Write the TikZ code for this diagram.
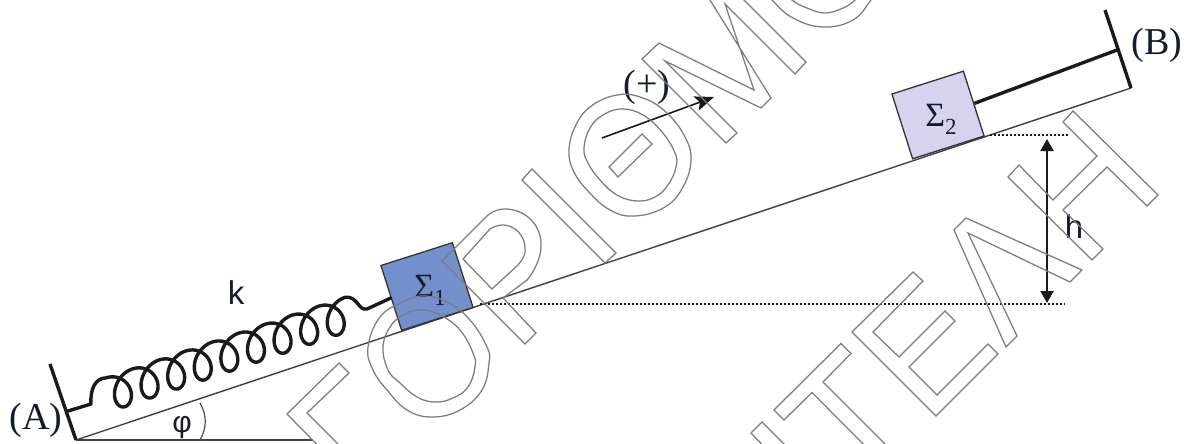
\documentclass[tikz,border=0pt]{standalone}
\usepackage{fontspec}
\setmainfont{Liberation Serif}
\newfontfamily\sansf{Liberation Sans}
\usetikzlibrary{arrows.meta}
\definecolor{inkc}{HTML}{1A1A1A}
\definecolor{navyc}{HTML}{141C30}
\definecolor{markc}{HTML}{7C7C7C}
\definecolor{boxa}{HTML}{7490CC}
\definecolor{boxb}{HTML}{D6D2F0}
\tikzset{
  wm/.style={draw=markc,line width=1.25pt,line join=miter},
  massbox/.style={draw=black!80,line width=1.3pt,rectangle,rotate=17.7,minimum width=75pt,minimum height=68pt,inner sep=0pt},
  plane/.style={draw=black!75,line width=1.4pt},
  wallline/.style={draw=inkc,line width=3.4pt},
  springline/.style={draw=inkc,line width=3.4pt,line join=round,line cap=round},
  levelline/.style={draw=inkc,line width=2pt,dash pattern=on 2.4pt off 1.6pt},
  dimarrow/.style={draw=inkc,line width=2pt,{Triangle[length=12pt,width=13pt]}-{Triangle[length=12pt,width=13pt]},shorten <=0pt,shorten >=0pt},
  dirarrow/.style={draw=inkc,line width=1.6pt,-{Stealth[length=19pt,width=15pt,inset=4pt]}},
  serifl/.style={text=navyc,inner sep=0pt,font=\fontsize{38}{38}\selectfont},
  sansl/.style={text=navyc,inner sep=0pt,font=\sansf\fontsize{33}{33}\selectfont},
  sigmal/.style={text=navyc,inner sep=0pt,font=\fontsize{34}{34}\selectfont},
}
\newcommand{\sigmalabel}[1]{Σ\raisebox{-8pt}{\fontsize{23}{23}\selectfont #1}}
\begin{document}
\begin{tikzpicture}[x=1pt,y=-1pt]
\useasboundingbox (0,0) rectangle (1186,444);
\clip (0,0) rectangle (1186,444);
\fill[white] (0,0) rectangle (1186,444);
% named anchor points
\coordinate (foot) at (76,440);
\coordinate (wallAtop) at (50,364);
\coordinate (wallBtop) at (1105,10);
\coordinate (wallBfoot) at (1131,88);
\coordinate (baseEnd) at (313,440);
\coordinate (springA) at (68,411);
\coordinate (rodB) at (1117,50);
\coordinate (lowL) at (480,304);
\coordinate (lowR) at (1065,304);
\coordinate (upL) at (990,134.5);
\coordinate (upR) at (1068,134.5);
\coordinate (hTop) at (1047,139);
\coordinate (hBot) at (1047,303);
\coordinate (dirS) at (602,138);
\coordinate (dirE) at (714,97);
% incline
\draw[plane] (foot) -- (wallBfoot);
\draw[plane] (foot) -- (baseEnd);
\draw[black!70,line width=1.2pt] (200,403) .. controls (207,415) and (207,428) .. (200,440);
% walls
\draw[wallline] (wallAtop) -- (foot);
\draw[wallline] (wallBtop) -- (wallBfoot);
% blocks
\node[massbox,fill=boxa] (m1) at (427,286.5) {};
\node[massbox,fill=boxb] (m2) at (938,115) {};
% rod
\draw[wallline] (m2.east) -- (rodB);
% spring
\draw[springline] (springA) -- (91,404) .. controls (90,388) and (96,378) .. (105.9,377.9)
  -- plot[domain=0:3240,samples=433,variable=\t]
  ({125+26.6*(\t/360-0.5)+14.2*sin(\t)-2.9*(1+cos(\t))},
   {406.7-8.96*(\t/360-0.5)-4.6*sin(\t)-16.66*(1+cos(\t))})
  .. controls (358,296) and (358,311) .. (367,309) -- (m1.west);
% levels and arrows
\draw[levelline] (lowL) -- (lowR);
\draw[levelline] (upL) -- (upR);
\draw[dimarrow] (hTop) -- (hBot);
\draw[dirarrow] (dirS) -- (dirE);
% labels
\node[serifl] (la) at (36,420) {(A)};
\node[serifl] (lb) at (1157,45) {(B)};
\node[serifl] (lp) at (647,87) {(+)};
\node[sansl] (lk) at (236,293) {k};
\node[sansl] (lh) at (1074,227) {h};
\node[sansl,font=\sansf\fontsize{30}{30}\selectfont] (lphi) at (182,428) {φ};
\node[sigmal] (s1) at (430,290) {\sigmalabel{1}};
\node[sigmal] (s2) at (941,119) {\sigmalabel{2}};
% watermark outlines
\draw[wm] (339,363) -- (349,373) -- (307,413) -- (368,474) -- (345,473) -- (287,414) -- cycle;
\draw[wm] plot[smooth cycle,tension=0.7] coordinates {(368,347)(380,317)(403,302)(423,296)(447,302)(470,320)(487,347)(489,363)(482,390)(460,410)(432,417)(407,410)(387,390)(373,370)};
\draw[wm] plot[smooth cycle,tension=0.7] coordinates {(383,347)(390,327)(403,315)(420,310)(440,315)(460,330)(473,353)(475,367)(468,387)(453,398)(435,402)(417,397)(400,383)(388,370)};
\draw[wm] (442,261) -- (488,215) .. controls (495,210) and (500,209) .. (505,209) .. controls (525,209) and (542,225) .. (541,246) .. controls (541,258) and (534,272) .. (527,280) -- (503,298) -- (536,333) -- (525,344) -- cycle;
\draw[wm] (463,259) -- (492,289) -- (518,265) .. controls (524,258) and (526,252) .. (525,248) .. controls (525,235) and (514,225) .. (503,225) .. controls (498,225) and (493,227) .. (490,229) -- cycle;
\draw[wm] (532,169) -- (522,180) -- (605,263) -- (616,253) -- cycle;
\draw[wm] plot[smooth cycle,tension=0.7] coordinates {(569,150)(575,127)(590,107)(617,95)(643,98)(667,113)(685,137)(691,160)(683,187)(665,207)(635,216)(610,210)(587,190)(573,170)};
\draw[wm] plot[smooth cycle,tension=0.7] coordinates {(584,148)(590,128)(603,115)(622,109)(643,115)(662,132)(675,153)(676,167)(668,185)(655,197)(637,201)(617,195)(600,180)(588,163)};
\draw[wm] (642,134) -- (652,144) -- (618,177) -- (609,167) -- cycle;
\draw[wm] (642,59) -- (659,43) -- (754,90) -- (725,4) -- (795,74) -- (806,62) -- (730,-14) -- (700,-16) -- (771,98) -- (761,108) -- (665,61) -- (737,133) -- (726,143) -- cycle;
\draw[wm] plot[smooth,tension=0.7] coordinates {(755,-20)(772,0)(793,18)(823,27)(853,20)(871,0)(885,-20)};
\draw[wm] plot[smooth,tension=0.7] coordinates {(778,-15)(792,0)(807,8)(825,13)(843,8)(855,0)(868,-15)};
\draw[wm] (751,433) -- (762,422) -- (790,450) -- (775,458) -- cycle;
\draw[wm] (841,343.5) -- (851,353.5) -- (823,382) -- (900,459) -- (878,459) -- (812,392.5) -- (784,420) -- (774,410) -- cycle;
\draw[wm] (913,272) -- (923,281) -- (873,332) -- (899,357) -- (945,311) -- (955,321) -- (909,367) -- (937,395) -- (988,344) -- (998,354) -- (936,416) -- (852,332) -- cycle;
\draw[wm] (966,218) -- (1082,270) -- (1070,282) -- (968,233) -- (1017,336) -- (1006,347) -- (954,230) -- cycle;
\draw[wm] (1019,165) -- (1008,177) -- (1092,260) -- (1103,249) -- (1063,210) -- (1107,167) -- (1147,206) -- (1158,195) -- (1073,111) -- (1063,122) -- (1097,156) -- (1053,200) -- cycle;
\end{tikzpicture}
\end{document}
